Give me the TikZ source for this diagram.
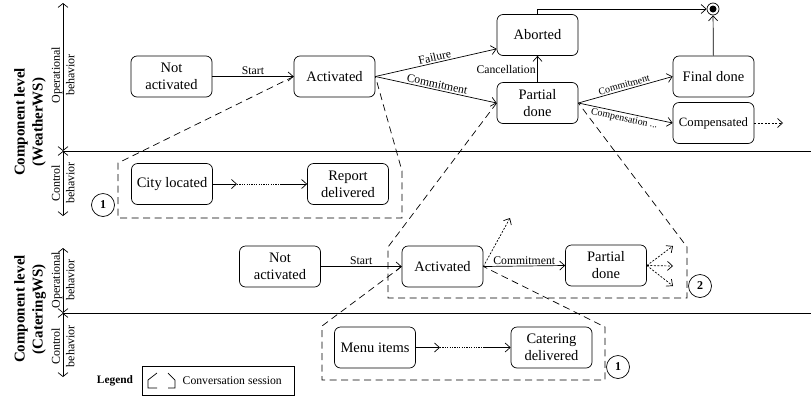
\documentclass[tikz,border=0pt]{standalone}
\usepackage{fontspec}
\setmainfont{Liberation Serif}
\usetikzlibrary{arrows.meta,calc}

\begin{document}
\begin{tikzpicture}[x=1pt,y=-1pt,
  state/.style={draw, rounded corners=6pt, line width=0.7pt, minimum width=81pt,
    minimum height=41pt, align=center, inner sep=1pt,
    font=\fontsize{14.5}{17}\selectfont},
  lbl/.style={font=\fontsize{11.7}{13}\selectfont, inner sep=1.5pt},
  slbl/.style={font=\fontsize{10}{12}\selectfont, inner sep=1.5pt},
  tr/.style={line width=0.7pt, -{Straight Barb[length=5pt,width=9pt]}},
  dtr/.style={tr, dash pattern=on 2pt off 1.5pt},
  dotline/.style={line width=0.7pt, dash pattern=on 1.2pt off 1.2pt},
  sess/.style={line width=0.7pt, dash pattern=on 7pt off 4.5pt},
  num/.style={draw, circle, line width=0.7pt, minimum size=23pt, inner sep=0pt,
    font=\bfseries\fontsize{12}{12}\selectfont},
  axis/.style={line width=0.7pt,
    {Straight Barb[length=4pt,width=10pt]}-{Straight Barb[length=4pt,width=10pt]}},
  axlbl/.style={rotate=90, align=center, font=\fontsize{12}{14.5}\selectfont, inner sep=0pt},
  lvl/.style={rotate=90, align=center, font=\bfseries\fontsize{15}{18}\selectfont, inner sep=0pt},
]
\useasboundingbox (0,0) rectangle (811,400);

% ---------------- level frames ----------------
\draw[axis] (63,3) -- (63,151);
\draw[axis] (63,151) -- (63,216);
\draw[axis] (63,248) -- (63,313);
\draw[axis] (63,313) -- (63,377);
\draw[line width=0.7pt] (63,151) -- (811,151);
\draw[line width=0.7pt] (63,313) -- (811,313);

\node[lvl] (lvw) at (30,122) {Component level\\(WeatherWS)};
\node[lvl] (lvc) at (30,309) {Component level\\(CateringWS)};
\node[axlbl] (opw) at (63,75) {Operational\\behavior};
\node[axlbl] (ctw) at (63,183) {Control\\behavior};
\node[axlbl] (opc) at (63,280) {Operational\\behavior};
\node[axlbl] (ctc) at (63,346) {Control\\behavior};

% ---------------- WeatherWS: operational behavior ----------------
\node[state] (na1) at (171.5,76.5) {Not\\activated};
\node[state] (ac1) at (334.5,76.5) {Activated};
\node[state] (ab1) at (537.5,35) {Aborted};
\node[state] (pd1) at (537.5,103) {Partial\\done};
\node[state] (fd1) at (713.5,76.5) {Final done};
\node[state, font=\fontsize{12.7}{15}\selectfont] (cp1) at (713.5,123) {Compensated};
\node[circle, draw, line width=0.7pt, minimum size=12pt, inner sep=0pt] (final) at (713,9) {};
\fill (final.center) circle (3.5pt);
\coordinate (cpx) at (783,123);

\draw[tr] (na1) -- node[lbl, above] {Start} (ac1);
\draw[tr] (ac1.east) -- node[lbl, above, sloped] {Failure} ($(ab1.south west)+(0,-7)$);
\draw[tr] (ac1.east) -- node[lbl, above, sloped] {Commitment} (pd1.west);
\draw[tr] (pd1) -- node[lbl, left] {Cancellation} (ab1);
\draw[tr] (pd1.east) -- node[slbl, above, sloped] {Commitment} (fd1.west);
\draw[tr] (pd1.east) -- node[slbl, below, sloped] {Compensation ...} (cp1.west);
\draw[tr] (ab1.north) |- (final.west);
\draw[tr] (fd1) -- (final);
\draw[dtr] (cp1.east) -- (cpx);

% ---------------- WeatherWS: control behavior ----------------
\node[state] (cl1) at (172,184) {City located};
\node[state] (rd1) at (348,184) {Report\\delivered};
\coordinate (w1) at (237,184);
\coordinate (w2) at (280,184);
\draw[tr] (cl1.east) -- (w1);
\draw[dotline] (w1) -- (w2);
\draw[tr] (w2) -- (rd1.west);

% ---------------- CateringWS: operational behavior ----------------
\node[state] (na2) at (280,266.5) {Not\\activated};
\node[state] (ac2) at (442.5,266.5) {Activated};
\node[state] (pd2) at (606,265.5) {Partial\\done};
\coordinate (ax) at (510,218);
\coordinate (px1) at (673,246);
\coordinate (px2) at (673,266);
\coordinate (px3) at (673,286);

\draw[tr] (na2) -- node[lbl, above] {Start} (ac2);
\draw[tr] (ac2.east) -- node[lbl, above] {Commitment} (pd2.west);
\draw[dtr] (ac2.east) -- (ax);
\draw[dtr] (pd2.east) -- (px1);
\draw[dtr] (pd2.east) -- (px2);
\draw[dtr] (pd2.east) -- (px3);

% ---------------- CateringWS: control behavior ----------------
\node[state] (mi) at (375,347.5) {Menu items};
\node[state] (cd) at (551.5,347.5) {Catering\\delivered};
\coordinate (c1) at (440,347.5);
\coordinate (c2) at (483,347.5);
\draw[tr] (mi.east) -- (c1);
\draw[dotline] (c1) -- (c2);
\draw[tr] (c2) -- (cd.west);

% ---------------- conversation sessions ----------------
\coordinate (s1a) at (118,163);
\coordinate (s1b) at (118,218);
\coordinate (s1c) at (402,218);
\coordinate (s1d) at (402,171);
\draw[sess] (ac1.west) -- (s1a) -- (s1b) -- (s1c) -- (s1d) -- (ac1.east);

\coordinate (s2a) at (388,247);
\coordinate (s2b) at (388,298);
\coordinate (s2c) at (687,298);
\coordinate (s2d) at (687,247);
\draw[sess] (pd1.west) -- (s2a) -- (s2b) -- (s2c) -- (s2d) -- (pd1.east);

\coordinate (s3a) at (322,326);
\coordinate (s3b) at (322,380);
\coordinate (s3c) at (605,380);
\coordinate (s3d) at (605,327);
\draw[sess] (ac2.west) -- (s3a) -- (s3b) -- (s3c) -- (s3d) -- (ac2.east);

\node[num] (n1w) at (103,205) {1};
\node[num] (n2) at (700,286) {2};
\node[num] (n1c) at (618,367) {1};

% ---------------- legend ----------------
\node[font=\bfseries\fontsize{11.4}{13}\selectfont] (lg) at (115,381) {Legend};
\draw[line width=0.7pt] (142,366) rectangle (294,395);
\draw[line width=0.7pt] (157,388) -- (148,388) -- (148,380) -- (157,373);
\draw[line width=0.7pt] (168,373) -- (175,380) -- (175,388) -- (168,388);
\node[lbl, anchor=west] (lgt) at (181,381) {Conversation session};

\end{tikzpicture}
\end{document}
